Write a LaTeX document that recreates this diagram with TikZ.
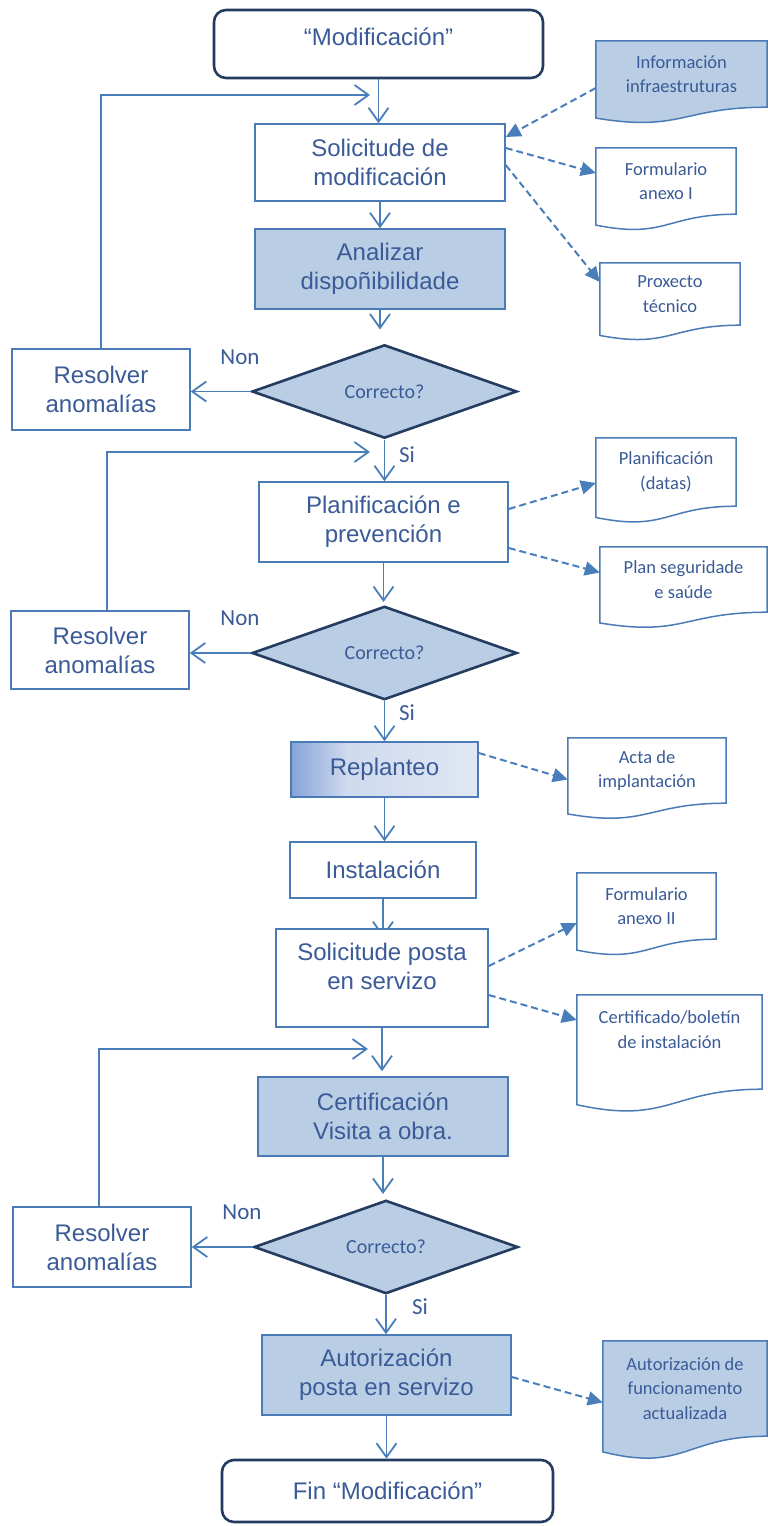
\documentclass[tikz,border=0pt]{standalone}
\usepackage{fontspec}
\setmainfont{Liberation Sans}
\newfontfamily\calfont{Carlito}
\usetikzlibrary{shapes.geometric,arrows.meta,calc,backgrounds}
\definecolor{txtblue}{HTML}{3A5B97}
\definecolor{boxline}{HTML}{4A7BB7}
\definecolor{boxfill}{HTML}{B9CDE5}
\definecolor{darkline}{HTML}{243C60}
\definecolor{conline}{HTML}{4A7EBB}
\definecolor{rdark}{HTML}{86A3D9}
\definecolor{rmid}{HTML}{CFDAEE}
\definecolor{rlight}{HTML}{E0E7F4}
\pgfdeclarehorizontalshading{replshade}{100bp}{color(0bp)=(rdark); color(25bp)=(rdark); color(40bp)=(rmid); color(75bp)=(rlight); color(100bp)=(rlight)}
\newcommand{\docshape}[3]{\draw[docline,fill=#2] (#1.north west) -- (#1.north east) -- (#1.south east) .. controls (#1.south) and ($(#1.south)+(0,0.38*#3)$) .. ($(#1.south west)+(0,0.165*#3)$) -- cycle;}
\begin{document}
\begin{tikzpicture}[x=1pt,y=-1pt,
  proc/.style={draw=boxline, line width=1.5pt, rectangle, fill=white, font=\fontsize{24}{29}\selectfont, text=txtblue, align=center, inner sep=0pt},
  term/.style={draw=darkline, line width=2.6pt, rectangle, rounded corners=12pt, fill=white, font=\fontsize{24}{29}\selectfont, text=txtblue, align=center, inner sep=0pt},
  dec/.style={draw=darkline, line width=2.6pt, diamond, fill=boxfill, font=\calfont\fontsize{20}{24}\selectfont, text=txtblue, inner sep=0pt},
  doc/.style={rectangle, font=\calfont\fontsize{18.5}{24.5}\selectfont, text=txtblue, align=center, inner sep=0pt},
  docline/.style={draw=boxline, line width=1.5pt},
  lbl/.style={font=\calfont\fontsize{23}{27}\selectfont, text=txtblue, inner sep=0pt},
  conn/.style={draw=conline, line width=1.8pt, -{Straight Barb[length=14pt,width=20pt]}},
  dconn/.style={draw=conline, line width=2pt, dash pattern=on 7pt off 4pt, -{Triangle[length=15pt,width=14pt]}}
]
\useasboundingbox (0,0) rectangle (768,1526);
% main flow
\node[term, minimum width=329pt, minimum height=68pt, text depth=15pt] (start) at (378.5,44) {“Modificación”};
\node[proc, minimum width=250pt, minimum height=77pt] (sol) at (380,162.5) {Solicitude de\\modificación};
\node[proc, fill=boxfill, minimum width=250pt, minimum height=80pt] (anal) at (380,269) {Analizar\\dispoñibilidade};
\node[dec, minimum width=265pt, minimum height=87pt] (dia1) at (384.5,391.5) {Correcto?};
\node[proc, minimum width=178pt, minimum height=81pt] (res1) at (101,389.5) {Resolver\\anomalías};
\node[proc, minimum width=249pt, minimum height=80pt] (planif) at (383.5,522) {Planificación e\\prevención};
\node[dec, minimum width=265pt, minimum height=86pt] (dia2) at (384.5,653) {Correcto?};
\node[proc, minimum width=178pt, minimum height=78pt] (res2) at (100,650) {Resolver\\anomalías};
\node[proc, shading=replshade, minimum width=187pt, minimum height=55pt] (repl) at (384.5,769.5) {Replanteo};
\node[proc, minimum width=186pt, minimum height=56pt] (inst) at (383,870) {Instalación};
\node[proc, minimum width=212pt, minimum height=98pt, text depth=24pt] (solposta) at (382,978) {Solicitude posta\\en servizo};
\node[proc, fill=boxfill, minimum width=250pt, minimum height=79pt] (cert) at (383,1116.5) {Certificación\\Visita a obra.};
\node[dec, minimum width=264pt, minimum height=86pt] (dia3) at (386,1247) {Correcto?};
\node[proc, minimum width=178pt, minimum height=80pt] (res3) at (102,1247) {Resolver\\anomalías};
\node[proc, fill=boxfill, minimum width=249pt, minimum height=80pt] (aut) at (386.5,1375) {Autorización\\posta en servizo};
\node[term, minimum width=331pt, minimum height=62pt] (fin) at (387.5,1491) {Fin “Modificación”};
% documents
\node[doc, minimum width=171pt, minimum height=66pt] (info) at (681.5,74) {Información\\infraestruturas};
\node[doc, minimum width=140pt, minimum height=66pt] (form1) at (666,181) {Formulario\\anexo I};
\node[doc, minimum width=140pt, minimum height=62pt] (prox) at (670,294) {Proxecto\\técnico};
\node[doc, minimum width=140pt, minimum height=68pt] (pdatas) at (666,472) {Planificación\\(datas)};
\node[doc, minimum width=167pt, minimum height=65pt] (pseg) at (683.5,579.5) {Plan seguridade\\e saúde};
\node[doc, minimum width=158pt, minimum height=65pt] (acta) at (647,770.5) {Acta de\\implantación};
\node[doc, minimum width=139pt, minimum height=66pt] (form2) at (646.5,906) {Formulario\\anexo II};
\node[doc, minimum width=185pt, minimum height=94pt] (certd) at (669.5,1042) {Certificado/boletín\\de instalación\\\mbox{}};
\node[doc, minimum width=164pt, minimum height=95pt] (autd) at (685,1388.5) {Autorización de\\funcionamento\\actualizada};
\begin{pgfonlayer}{background}
\docshape{info}{boxfill}{66}
\docshape{form1}{white}{66}
\docshape{prox}{white}{62}
\docshape{pdatas}{white}{68}
\docshape{pseg}{white}{65}
\docshape{acta}{white}{65}
\docshape{form2}{white}{66}
\docshape{certd}{white}{94}
\docshape{autd}{boxfill}{95}
\draw[conn, shorten >=-9pt] (inst.south) -- (inst.south |- solposta.north);
\end{pgfonlayer}
% labels
\node[lbl] (non1) at (240,357) {Non};
\node[lbl] (si1) at (407,455) {Si};
\node[lbl] (non2) at (240,618) {Non};
\node[lbl] (si2) at (407,713) {Si};
\node[lbl] (non3) at (242,1212) {Non};
\node[lbl] (si3) at (420,1307) {Si};
% feedback coordinates
\coordinate (fb1) at (370,95);
\coordinate (fb2) at (370,452);
\coordinate (fb3) at (368,1049);
% connectors
\draw[conn] (start.south) -- (start.south |- sol.north);
\draw[conn] (sol.south) -- (anal.north);
\draw[conn, shorten >=14pt] (anal.south) -- (anal.south |- dia1.north);
\draw[conn] (dia1.west) -- (res1.east |- dia1.west);
\draw[conn] (dia1.south) -- (dia1.south |- planif.north);
\draw[conn] (res1.north) |- (fb1);
\draw[conn, shorten >=3pt] (planif.south) -- (planif.south |- dia2.north);
\draw[conn] (dia2.west) -- (res2.east |- dia2.west);
\draw[conn] (dia2.south) -- (dia2.south |- repl.north);
\draw[conn] ($(res2.north)+(7,0)$) |- (fb2);
\draw[conn] (repl.south) -- (repl.south |- inst.north);
\draw[conn, shorten >=5pt] (solposta.south) -- (solposta.south |- cert.north);
\draw[conn, shorten >=5pt] (cert.south) -- (cert.south |- dia3.north);
\draw[conn] (dia3.west) -- (res3.east |- dia3.west);
\draw[conn] (dia3.south) -- (dia3.south |- aut.north);
\draw[conn] ($(res3.north)+(-3,0)$) |- (fb3);
\draw[conn] (aut.south) -- (aut.south |- fin.north);
% dashed document links
\draw[dconn] ($(info.west)+(0,14)$) -- ($(sol.east)+(0,-25.5)$);
\draw[dconn] ($(sol.east)+(0,-14.5)$) -- ($(form1.west)+(0,-8)$);
\draw[dconn] ($(sol.east)+(0,2.5)$) -- ($(prox.west)+(0,-12)$);
\draw[dconn] ($(planif.east)+(0,-13)$) -- ($(pdatas.west)+(0,11)$);
\draw[dconn] ($(planif.east)+(0,26)$) -- ($(pseg.west)+(0,-7)$);
\draw[dconn] ($(repl.east)+(0,-16.5)$) -- ($(acta.west)+(0,9)$);
\draw[dconn] ($(solposta.east)+(0,-12)$) -- ($(form2.west)+(0,17)$);
\draw[dconn] ($(solposta.east)+(0,17)$) -- ($(certd.west)+(0,-22)$);
\draw[dconn] ($(aut.east)+(0,2)$) -- ($(autd.west)+(0,14)$);
\end{tikzpicture}
\end{document}
